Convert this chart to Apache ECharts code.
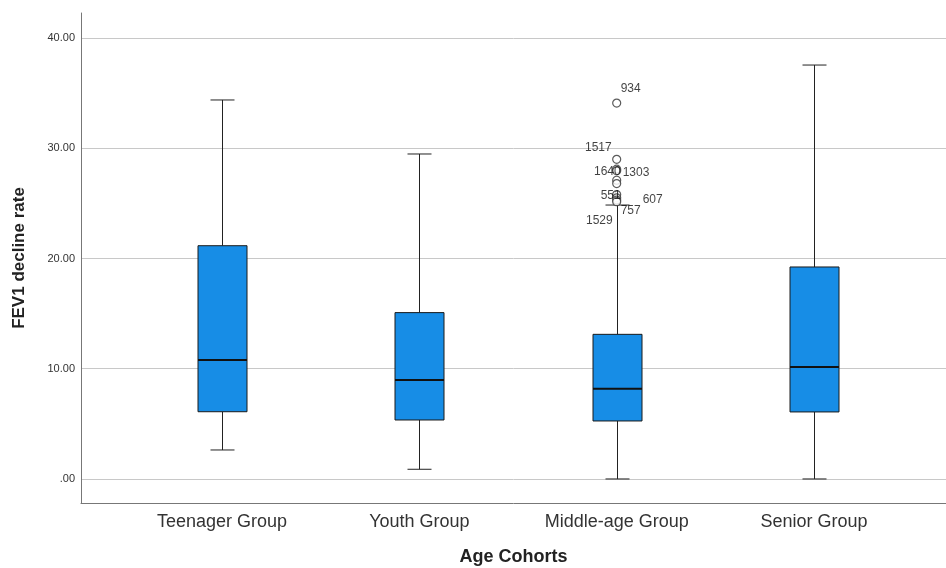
<!DOCTYPE html>
<html>
<head>
<meta charset="utf-8">
<script src="https://cdn.jsdelivr.net/npm/echarts@6/dist/echarts.min.js"></script>
<style>
    html, body { margin: 0; padding: 0; background: #fff; }
    #chart { width: 946px; height: 568px; }
</style>
</head>
<body>
<div id="chart"></div>
<script>
const categories = ['Teenager Group', 'Youth Group', 'Middle-age Group', 'Senior Group']
const lowerWhisker = [2.63, 0.88, 0, 0]
const q1 = [6.1, 5.35, 5.26, 6.08]
const median = [10.79, 8.98, 8.19, 10.16]
const q3 = [21.16, 15.09, 13.12, 19.23]
const upperWhisker = [34.38, 29.48, 24.85, 37.55]

// outliers all belong to the Middle-age group
const outlierGroup = 2
const outlierValues = [34.1, 29.0, 28.1, 27.95, 27.1, 26.8, 25.8, 25.5, 25.3, 25.15]
const outlierIds = ['934', '1517', '1640', '1303', '', '', '551', '607', '757', '1529']

const yTicks = [0, 10, 20, 30, 40]

// where each case label sits next to its circle
const labelPlace = {
    '934': { align: 'left', offset: [4, -14] },
    '1517': { align: 'right', offset: [-5, -12] },
    '1640': { align: 'right', offset: [4, 2] },
    '1303': { align: 'left', offset: [6, 2] },
    '551': { align: 'right', offset: [4, 1] },
    '607': { align: 'left', offset: [26, 2] },
    '757': { align: 'left', offset: [4, 11] },
    '1529': { align: 'right', offset: [-4, 19] }
}

const boxData = categories.map((c, i) => [i, lowerWhisker[i], q1[i], median[i], q3[i], upperWhisker[i]])

const outlierData = outlierValues.map((v, i) => {
    const id = outlierIds[i]
    const item = { value: [outlierGroup, v], name: id }
    if (id && labelPlace[id]) {
        item.label = {
            show: true,
            position: 'inside',
            align: labelPlace[id].align,
            offset: labelPlace[id].offset,
            formatter: id,
            color: '#111'
        }
    }
    return item
})

const BOX_HALF = 24.5
const CAP_HALF = 12

function renderBox(params, api) {
    const x = api.value(0)
    const pLow = api.coord([x, api.value(1)])
    const pQ1 = api.coord([x, api.value(2)])
    const pMed = api.coord([x, api.value(3)])
    const pQ3 = api.coord([x, api.value(4)])
    const pHigh = api.coord([x, api.value(5)])
    const cx = Math.round(pMed[0]) + 0.5
    const line = { stroke: '#222', lineWidth: 1 }
    return {
        type: 'group',
        children: [
            { type: 'line', shape: { x1: cx, y1: pHigh[1], x2: cx, y2: pQ3[1] }, style: line },
            { type: 'line', shape: { x1: cx, y1: pQ1[1], x2: cx, y2: pLow[1] }, style: line },
            { type: 'line', shape: { x1: cx - CAP_HALF, y1: pHigh[1], x2: cx + CAP_HALF, y2: pHigh[1] }, style: line },
            { type: 'line', shape: { x1: cx - CAP_HALF, y1: pLow[1], x2: cx + CAP_HALF, y2: pLow[1] }, style: line },
            {
                type: 'rect',
                shape: { x: cx - BOX_HALF, y: pQ3[1], width: BOX_HALF * 2, height: pQ1[1] - pQ3[1] },
                style: { fill: '#178de6', stroke: '#1a1a1a', lineWidth: 1 }
            },
            { type: 'line', shape: { x1: cx - BOX_HALF, y1: pMed[1], x2: cx + BOX_HALF, y2: pMed[1] }, style: { stroke: '#111', lineWidth: 2 } }
        ]
    }
}

const chart = echarts.init(document.getElementById('chart'))

chart.setOption({
    backgroundColor: '#fff',
    animation: false,
    textStyle: { fontFamily: 'Liberation Sans, Arial, sans-serif' },
    grid: { left: 81, right: 0, top: 13, bottom: 65, outerBoundsMode: 'none', containLabel: false },
    xAxis: {
        type: 'value',
        min: -0.715,
        max: 3.669,
        name: 'Age Cohorts',
        nameLocation: 'middle',
        nameGap: 45,
        nameTextStyle: { fontSize: 18, fontWeight: 'bold', color: '#222' },
        axisLine: { show: true, onZero: false, lineStyle: { color: '#777', width: 1 } },
        axisTick: { show: false },
        splitLine: { show: false },
        axisLabel: {
            customValues: [0, 1, 2, 3],
            formatter: v => categories[Math.round(v)],
            fontSize: 18,
            color: '#333',
            margin: 10
        }
    },
    yAxis: {
        type: 'value',
        min: -2.18,
        max: 42.27,
        name: 'FEV1 decline rate',
        nameLocation: 'middle',
        nameGap: 53,
        nameTextStyle: { fontSize: 17, fontWeight: 'bold', color: '#222' },
        axisLine: { show: true, onZero: false, lineStyle: { color: '#777', width: 1 } },
        axisTick: { show: false, customValues: yTicks },
        splitLine: { show: true, lineStyle: { color: '#c8c8c8', width: 1 } },
        axisLabel: {
            customValues: yTicks,
            formatter: v => v === 0 ? '.00' : v.toFixed(2),
            fontSize: 11,
            color: '#333',
            margin: 6
        }
    },
    series: [
        {
            type: 'custom',
            renderItem: renderBox,
            encode: { x: 0, y: [1, 2, 3, 4, 5] },
            data: boxData,
            z: 3
        },
        {
            type: 'scatter',
            symbol: 'circle',
            symbolSize: 8,
            itemStyle: { color: '#fff', borderColor: '#333', borderWidth: 1.2 },
            label: { show: false, fontSize: 12, color: '#111' },
            data: outlierData,
            z: 4
        }
    ]
})
</script>
</body>
</html>
